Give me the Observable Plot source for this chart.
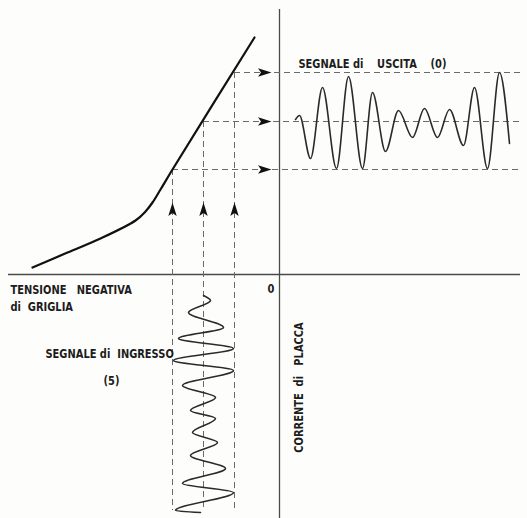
<!DOCTYPE html>
<html><head><meta charset="utf-8">
<script src="https://cdn.jsdelivr.net/npm/d3@7"></script>
<script src="https://cdn.jsdelivr.net/npm/@observablehq/plot@0.6"></script>
<style>
body{margin:0;background:#fdfdfb}
svg text{white-space:pre}
</style>
</head><body><div id="chart"></div>
<script>
// Transfer characteristic: grid voltage (vg, negative) vs plate current (ia), arbitrary units
const curveVg = [-24.7, -21.2, -17.9, -14.4, -13.4, -12.7, -11.9, -10.7, -2.5];
const curveIa = [0.7, 2.2, 3.6, 5.4, 6.3, 7.2, 8.5, 10.5, 23.7];
// three working points (min, rest, max)
const opVg = [-10.7, -7.6, -4.5];
const opIa = [10.5, 15.3, 20.2];
// output signal (time to the right, plate current up)
const outT  = [1.6, 2.0, 3.1, 4.3, 5.7, 6.9, 8.3, 9.3, 10.6, 11.9, 13.3, 14.5, 15.8, 17.0, 18.4, 19.5, 20.8, 22.0, 23.0];
const outIa = [15.5, 15.9, 11.6, 18.7, 10.6, 19.8, 10.6, 18.2, 12.3, 16.4, 13.7, 16.6, 13.7, 16.5, 12.9, 18.7, 10.6, 20.2, 13.1];
// input signal (time downward, grid voltage horizontal)
const inT  = [2.1, 2.6, 3.8, 5.3, 6.4, 7.4, 8.6, 9.6, 11.1, 12.3, 13.6, 14.4, 15.8, 16.8, 18.1, 19.4, 20.9, 21.8, 23.6, 23.8];
const inVg = [-7.6, -6.9, -9.1, -5.6, -10.1, -4.6, -10.6, -4.6, -9.7, -6.4, -8.9, -6.4, -8.7, -6.2, -8.9, -5.4, -9.7, -4.6, -10.4, -7.9];
// labels
const labelText = ["SEGNALE di    USCITA    (0)", "TENSIONE   NEGATIVA", "di  GRIGLIA", "0", "SEGNALE di  INGRESSO", "(5)"];
const labelVg   = [1.9, -26.9, -26.9, -1.2, -23.4, -17.6];
const labelIa   = [20.7, -1.9, -3.6, -1.8, -8.3, -11.0];
const axisLabel = "CORRENTE  di   PLACCA";

// extents of the drawing (data units)
const X_DOMAIN = [-27.9, 24.8], Y_DOMAIN = [-24.4, 27.4];
const H_AXIS = [-27.1, 24.1], V_AXIS = [-24.4, 26.5];
const DASH_RIGHT = 24.3, DASH_BOTTOM = -23.6;

const curve = curveVg.map((v, i) => ({vg: v, ia: curveIa[i]}));
const ops = opVg.map((v, i) => ({vg: v, ia: opIa[i]}));
const outWave = outT.map((t, i) => ({t, ia: outIa[i]}));
const inWave = d3.sort(inT.map((t, i) => ({vg: inVg[i], y: -t})), d => d.y);
const labels = labelText.map((s, i) => ({s, vg: labelVg[i], ia: labelIa[i]}));

const arrowHead = {draw(ctx) {
  ctx.moveTo(7, 0); ctx.lineTo(-6.5, -4.2); ctx.lineTo(-3.5, 0); ctx.lineTo(-6.5, 4.2); ctx.closePath();
}};

const font = "'DejaVu Sans', sans-serif";
const ink = "#1c1c1c";

const chart = Plot.plot({
  width: 527, height: 518,
  margin: 0,
  style: {background: "#fdfdfb", color: ink},
  x: {domain: X_DOMAIN, axis: null},
  y: {domain: Y_DOMAIN, axis: null},
  marks: [
    // axes
    Plot.ruleY([0], {x1: H_AXIS[0], x2: H_AXIS[1], stroke: "#4a4a4a", strokeWidth: 1.3}),
    Plot.ruleX([0], {y1: V_AXIS[0], y2: V_AXIS[1], stroke: "#4a4a4a", strokeWidth: 1.3}),
    // projection dashed lines
    Plot.ruleY(ops, {y: "ia", x1: "vg", x2: DASH_RIGHT, stroke: "#6a6a6a", strokeWidth: 1, strokeDasharray: "6,4"}),
    Plot.ruleX(ops, {x: "vg", y1: "ia", y2: DASH_BOTTOM, stroke: "#6a6a6a", strokeWidth: 1, strokeDasharray: "6,4"}),
    // characteristic
    Plot.line(curve, {x: "vg", y: "ia", curve: "catmull-rom", stroke: "#111", strokeWidth: 2.2}),
    // signals
    Plot.line(outWave, {x: "t", y: "ia", curve: "monotone-x", stroke: "#2a2a2a", strokeWidth: 1.6}),
    Plot.line(inWave, {x: "vg", y: "y", curve: "monotone-y", stroke: "#2a2a2a", strokeWidth: 1.6}),
    // arrows
    Plot.dot(ops, {x: -1.5, y: "ia", symbol: arrowHead, r: 5, fill: "#111", stroke: "none"}),
    Plot.dot(ops, {x: "vg", y: 6.5, symbol: arrowHead, r: 5, rotate: -90, fill: "#111", stroke: "none"}),
    // labels
    Plot.text(labels, {x: "vg", y: "ia", text: "s", textAnchor: "start", lineAnchor: "bottom",
      fontFamily: font, fontSize: 13, fontWeight: "bold", fill: ink}),
    Plot.text([axisLabel], {x: 1.9, y: -11.3, text: d => d, rotate: -90, textAnchor: "middle", lineAnchor: "middle",
      fontFamily: font, fontSize: 13, fontWeight: "bold", fill: ink})
  ]
});
document.getElementById("chart").appendChild(chart);
// condensed lettering of the original drawing
const SQUEEZE = 0.76;
d3.select(chart).selectAll("text").each(function() {
  const w = this.getComputedTextLength();
  if (w > 0) {
    this.setAttribute("textLength", (w * SQUEEZE).toFixed(1));
    this.setAttribute("lengthAdjust", "spacingAndGlyphs");
  }
});
</script>
</body></html>
